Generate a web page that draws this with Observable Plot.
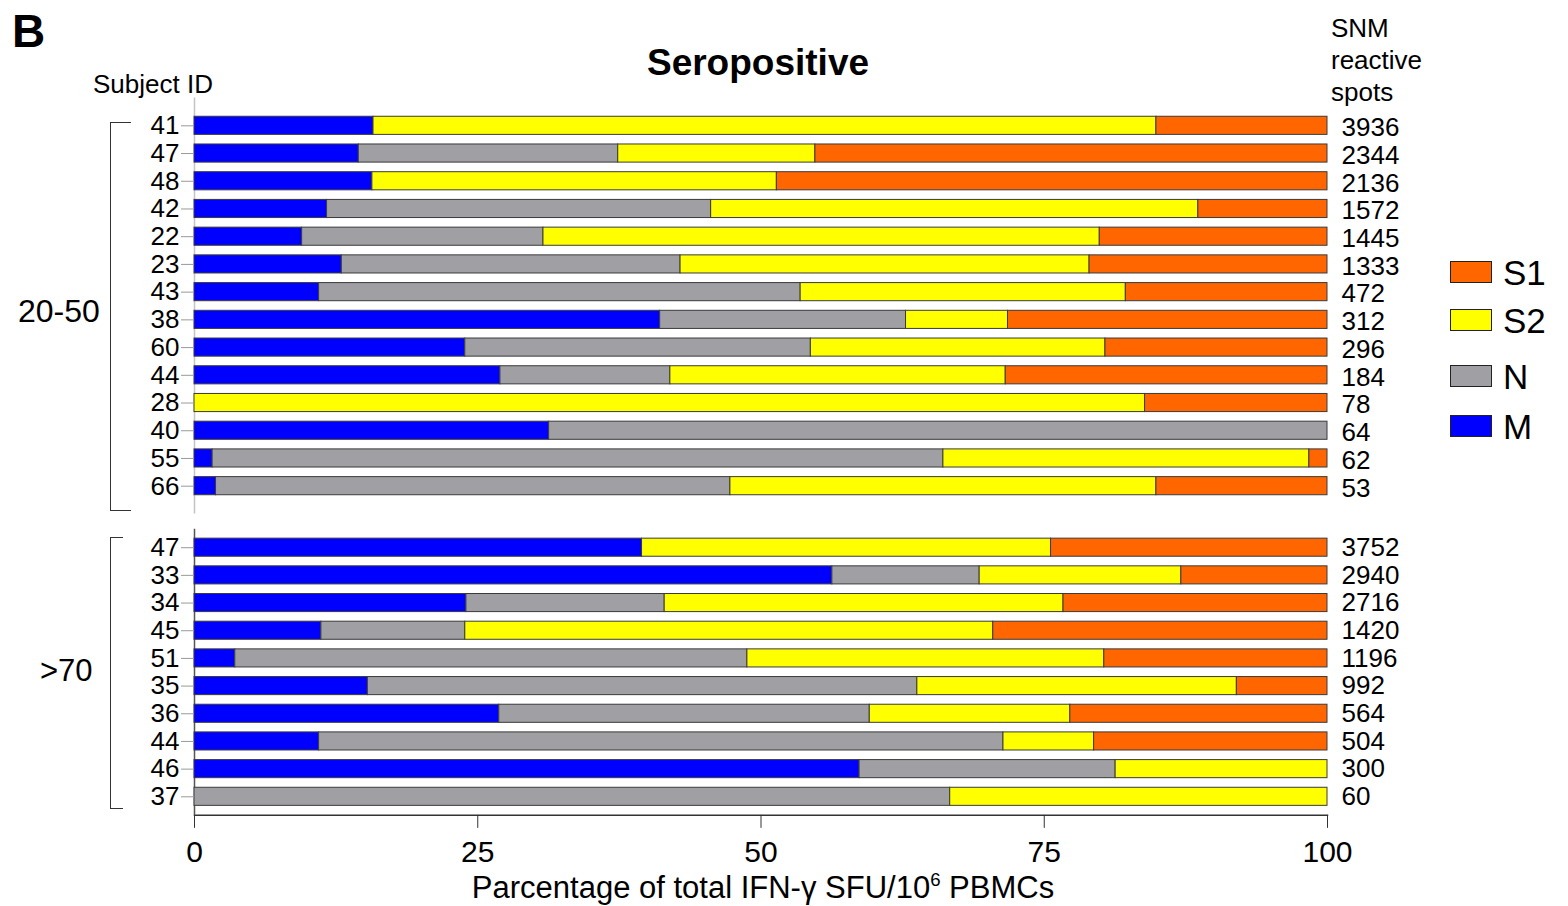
<!DOCTYPE html>
<html><head><meta charset="utf-8">
<script src="https://cdn.jsdelivr.net/npm/d3@7"></script>
<script src="https://cdn.jsdelivr.net/npm/@observablehq/plot@0.6"></script>
<style>
body{margin:0;background:#fff;}
#chart{position:relative;width:1568px;height:906px;font-family:"Liberation Sans",Arial,sans-serif;color:#000;overflow:hidden}
.abs{position:absolute;white-space:nowrap;line-height:1}
.plot{position:absolute;left:0}
</style></head><body><div id="chart"></div>
<script>
// ---- data ----
const series = ["M", "N", "S2", "S1"];
const seriesColors = ["#0000FF", "#A09FA4", "#FFFF00", "#FF6600"];
const legendOrder = ["S1", "S2", "N", "M"];
const xTicks = [0, 25, 50, 75, 100];

// age 20-50
const youngIds = ["41","47","48","42","22","23","43","38","60","44","28","40","55","66"];
const youngM  = [15.8,14.5,15.7,11.7,9.5,13.0,11.0,41.1,23.9,27.0,0,31.3,1.6,1.9];
const youngN  = [0,22.9,0,33.9,21.3,29.9,42.5,21.7,30.5,15.0,0,68.7,64.5,45.4];
const youngS2 = [69.1,17.4,35.7,43.0,49.1,36.1,28.7,9.0,26.0,29.6,83.9,0,32.3,37.6];
const youngS1 = [15.1,45.2,48.6,11.4,20.1,21.0,17.8,28.2,19.6,28.4,16.1,0,1.6,15.1];
const youngSpots = [3936,2344,2136,1572,1445,1333,472,312,296,184,78,64,62,53];

// age >70
const oldIds = ["47","33","34","45","51","35","36","44","46","37"];
const oldM  = [39.5,56.3,24.0,11.2,3.6,15.3,26.9,11.0,58.7,0];
const oldN  = [0,13.0,17.5,12.7,45.2,48.5,32.7,60.4,22.6,66.7];
const oldS2 = [36.1,17.8,35.2,46.6,31.5,28.2,17.7,8.0,18.7,33.3];
const oldS1 = [24.4,12.9,23.3,29.5,19.7,8.0,22.7,20.6,0,0];
const oldSpots = [3752,2940,2716,1420,1196,992,564,504,300,60];

function longData(ids, cols) {
  const out = [];
  ids.forEach((id, i) => series.forEach((s, j) => {
    if (cols[j][i] > 0) out.push({id, series: s, value: cols[j][i]});
  }));
  return out;
}
const youngData = longData(youngIds, [youngM, youngN, youngS2, youngS1]);
const oldData = longData(oldIds, [oldM, oldN, oldS2, oldS1]);
const youngRows = youngIds.map((id, i) => ({id, spots: String(youngSpots[i])}));
const oldRows = oldIds.map((id, i) => ({id, spots: String(oldSpots[i])}));

const FONT = '"Liberation Sans", Arial, sans-serif';
const chart = document.getElementById("chart");

function bars(data) {
  return Plot.barX(data, {x: "value", y: "id", fill: "series", stroke: "#3a3a3a", strokeWidth: 1,
    insetTop: 4.8, insetBottom: 4.8, insetLeft: 0, insetRight: 0});
}

const topPlot = Plot.plot({
  width: 1568, height: 520, marginTop: 97.6, marginBottom: 6.6, marginLeft: 194, marginRight: 241,
  style: {fontFamily: FONT, fontSize: "26px", background: "transparent", overflow: "visible", color: "#000"},
  x: {domain: [0, 100], axis: null},
  y: {domain: youngIds, paddingInner: 0, paddingOuter: 0.5, round: false},
  color: {domain: series, range: seriesColors},
  marks: [
    Plot.ruleX([0], {stroke: "#c4c4c4", strokeWidth: 1.5}),
    bars(youngData),
    Plot.axisY({tickSize: 13, tickPadding: 2, fontSize: 26, stroke: "#999", label: null}),
    Plot.text(youngRows, {y: "id", text: "spots", frameAnchor: "right", textAnchor: "start", dx: 14, dy: 2, fontSize: 26})
  ]
});
topPlot.classList.add("plot");
topPlot.style.top = "0px";
chart.appendChild(topPlot);

const bottomPlot = Plot.plot({
  width: 1568, height: 406, marginTop: 28.65, marginBottom: 91.15, marginLeft: 194, marginRight: 241,
  style: {fontFamily: FONT, fontSize: "26px", background: "transparent", overflow: "visible", color: "#000"},
  x: {domain: [0, 100]},
  y: {domain: oldIds, paddingInner: 0, paddingOuter: 0.17, round: false},
  color: {domain: series, range: seriesColors},
  marks: [
    Plot.ruleX([0], {stroke: "#555", strokeWidth: 1.5}),
    Plot.frame({anchor: "bottom", stroke: "#333", strokeWidth: 1.5}),
    bars(oldData),
    Plot.axisY({tickSize: 13, tickPadding: 2, fontSize: 26, stroke: "#999", label: null}),
    Plot.axisX({ticks: xTicks, tickSize: 13, tickPadding: 12, fontSize: 30, stroke: "#333", label: null}),
    Plot.text(oldRows, {y: "id", text: "spots", frameAnchor: "right", textAnchor: "start", dx: 14, fontSize: 26})
  ]
});
bottomPlot.classList.add("plot");
bottomPlot.style.top = "500px";
chart.appendChild(bottomPlot);

// ---- annotations ----
function addText(txt, {left, cy, size, bold = false, center = false}) {
  const d = document.createElement("div");
  d.className = "abs";
  d.textContent = txt;
  d.style.fontSize = size + "px";
  d.style.fontWeight = bold ? "bold" : "normal";
  d.style.left = left + "px";
  d.style.top = cy + "px";
  d.style.transform = center ? "translate(-50%,-50%)" : "translate(0,-50%)";
  chart.appendChild(d);
  return d;
}
addText("B", {left: 12, cy: 31, size: 46, bold: true});
addText("Seropositive", {left: 758, cy: 62, size: 37, bold: true, center: true});
addText("Subject ID", {left: 93, cy: 84, size: 26});
["SNM", "reactive", "spots"].forEach((t, i) => addText(t, {left: 1331, cy: 28 + 32 * i, size: 26}));
const xTitle = addText("", {left: 763, cy: 887, size: 31, center: true});
xTitle.innerHTML = 'Parcentage of total IFN-\u03B3 SFU/10<span style="font-size:0.6em;vertical-align:0.65em">6</span> PBMCs';
addText("20-50", {left: 18, cy: 311, size: 32});
addText(">70", {left: 40, cy: 670, size: 31});

function bracket(top, height, arm) {
  const d = document.createElement("div");
  d.style.cssText = `position:absolute;left:110px;top:${top}px;width:${arm}px;height:${height}px;border:1.5px solid #333;border-right:none;box-sizing:border-box`;
  chart.appendChild(d);
}
bracket(122, 389, 21);
bracket(537, 272, 13);

// legend
const legendY = {S1: 272, S2: 320, N: 376, M: 426};
legendOrder.forEach(s => {
  const sw = document.createElement("div");
  sw.style.cssText = `position:absolute;left:1450px;top:${legendY[s] - 11}px;width:42px;height:22px;box-sizing:border-box;border:1px solid #222;background:${seriesColors[series.indexOf(s)]}`;
  chart.appendChild(sw);
  addText(s, {left: 1503, cy: legendY[s], size: 35});
});
</script></body></html>
